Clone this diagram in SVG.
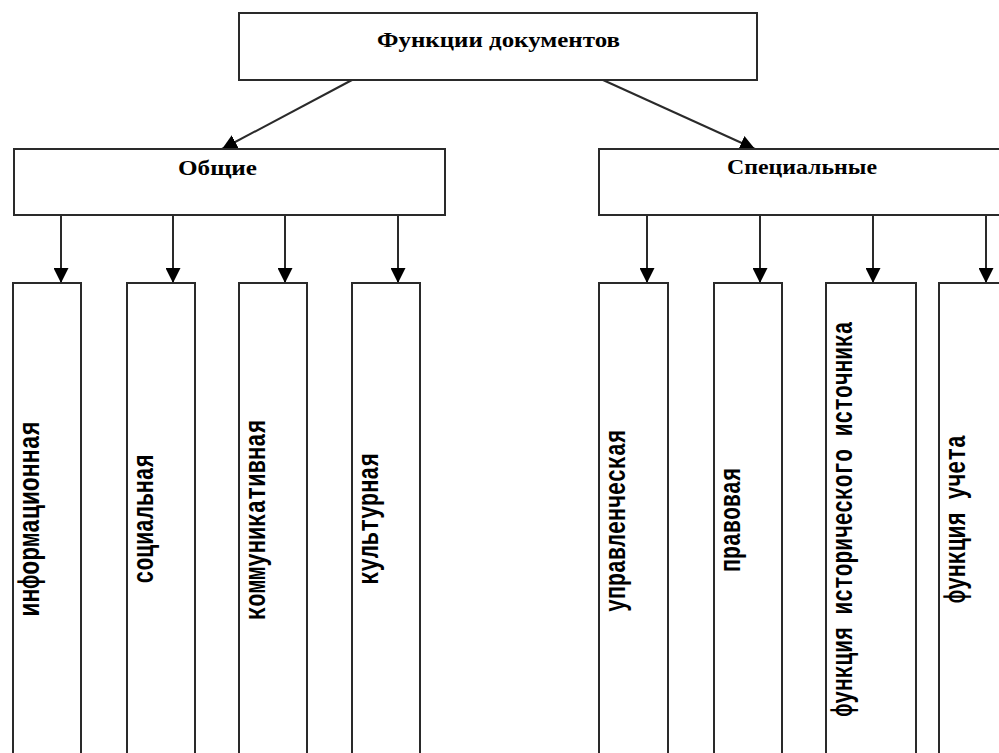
<svg xmlns="http://www.w3.org/2000/svg" width="999" height="753" viewBox="0 0 999 753">
<style>
.box{fill:#fff;stroke:#2a2a2a;stroke-width:2}
.conn{stroke:#2a2a2a;stroke-width:2;fill:none}
.title{font-family:"Liberation Serif","Times New Roman",serif;font-weight:bold;fill:#000}
.vt{font-family:"Liberation Mono","Courier New",monospace;font-weight:bold;font-size:30px;fill:#000}
</style>
<defs>
<marker id="arr" markerUnits="userSpaceOnUse" markerWidth="15" markerHeight="15" refX="15" refY="7.5" orient="auto">
<path d="M0,0 L15,7.5 L0,15 z" fill="#000"/>
</marker>
</defs>
<rect width="999" height="753" fill="#fff"/>
<g id="connectors">
<line class="conn" x1="352" y1="80" x2="222" y2="149" marker-end="url(#arr)"/>
<line class="conn" x1="603" y1="80" x2="755" y2="149" marker-end="url(#arr)"/>
<line class="conn" x1="61" y1="215" x2="61" y2="283" marker-end="url(#arr)"/>
<line class="conn" x1="173" y1="215" x2="173" y2="283" marker-end="url(#arr)"/>
<line class="conn" x1="285" y1="215" x2="285" y2="283" marker-end="url(#arr)"/>
<line class="conn" x1="398" y1="215" x2="398" y2="283" marker-end="url(#arr)"/>
<line class="conn" x1="647" y1="215" x2="647" y2="283" marker-end="url(#arr)"/>
<line class="conn" x1="760" y1="215" x2="760" y2="283" marker-end="url(#arr)"/>
<line class="conn" x1="873" y1="215" x2="873" y2="283" marker-end="url(#arr)"/>
<line class="conn" x1="986" y1="215" x2="986" y2="283" marker-end="url(#arr)"/>
</g>
<g id="root">
<rect class="box" x="239" y="13" width="518" height="67"/>
<text class="title" x="377" y="47" font-size="20" textLength="243" lengthAdjust="spacingAndGlyphs">Функции документов</text>
</g>
<g id="general">
<rect class="box" x="14" y="149" width="431" height="66"/>
<text class="title" x="178" y="175" font-size="21" textLength="79" lengthAdjust="spacingAndGlyphs">Общие</text>
</g>
<g id="special">
<rect class="box" x="599" y="149" width="420" height="66"/>
<text class="title" x="727" y="174" font-size="21" textLength="150" lengthAdjust="spacingAndGlyphs">Специальные</text>
</g>
<g id="n-info">
<rect class="box" x="13" y="283" width="68" height="480"/>
<text class="vt" transform="translate(39,519) rotate(-90)" text-anchor="middle" textLength="195" lengthAdjust="spacingAndGlyphs">информационная</text>
</g>
<g id="n-social">
<rect class="box" x="127" y="283" width="68" height="480"/>
<text class="vt" transform="translate(153,519) rotate(-90)" text-anchor="middle" textLength="129" lengthAdjust="spacingAndGlyphs">социальная</text>
</g>
<g id="n-comm">
<rect class="box" x="239" y="283" width="68" height="480"/>
<text class="vt" transform="translate(265,520) rotate(-90)" text-anchor="middle" textLength="200" lengthAdjust="spacingAndGlyphs">коммуникативная</text>
</g>
<g id="n-cult">
<rect class="box" x="352" y="283" width="68" height="480"/>
<text class="vt" transform="translate(378,519) rotate(-90)" text-anchor="middle" textLength="131" lengthAdjust="spacingAndGlyphs">культурная</text>
</g>
<g id="n-mgmt">
<rect class="box" x="599" y="283" width="69" height="480"/>
<text class="vt" transform="translate(625,521) rotate(-90)" text-anchor="middle" textLength="182" lengthAdjust="spacingAndGlyphs">управленческая</text>
</g>
<g id="n-legal">
<rect class="box" x="714" y="283" width="68" height="480"/>
<text class="vt" transform="translate(740,520) rotate(-90)" text-anchor="middle" textLength="104" lengthAdjust="spacingAndGlyphs">правовая</text>
</g>
<g id="n-hist">
<rect class="box" x="826" y="283" width="90" height="480"/>
<text class="vt" transform="translate(852,519) rotate(-90)" text-anchor="middle" textLength="395" lengthAdjust="spacingAndGlyphs">функция исторического источника</text>
</g>
<g id="n-account">
<rect class="box" x="939" y="283" width="80" height="480"/>
<text class="vt" transform="translate(965,519) rotate(-90)" text-anchor="middle" textLength="168" lengthAdjust="spacingAndGlyphs">функция учета</text>
</g>
</svg>
